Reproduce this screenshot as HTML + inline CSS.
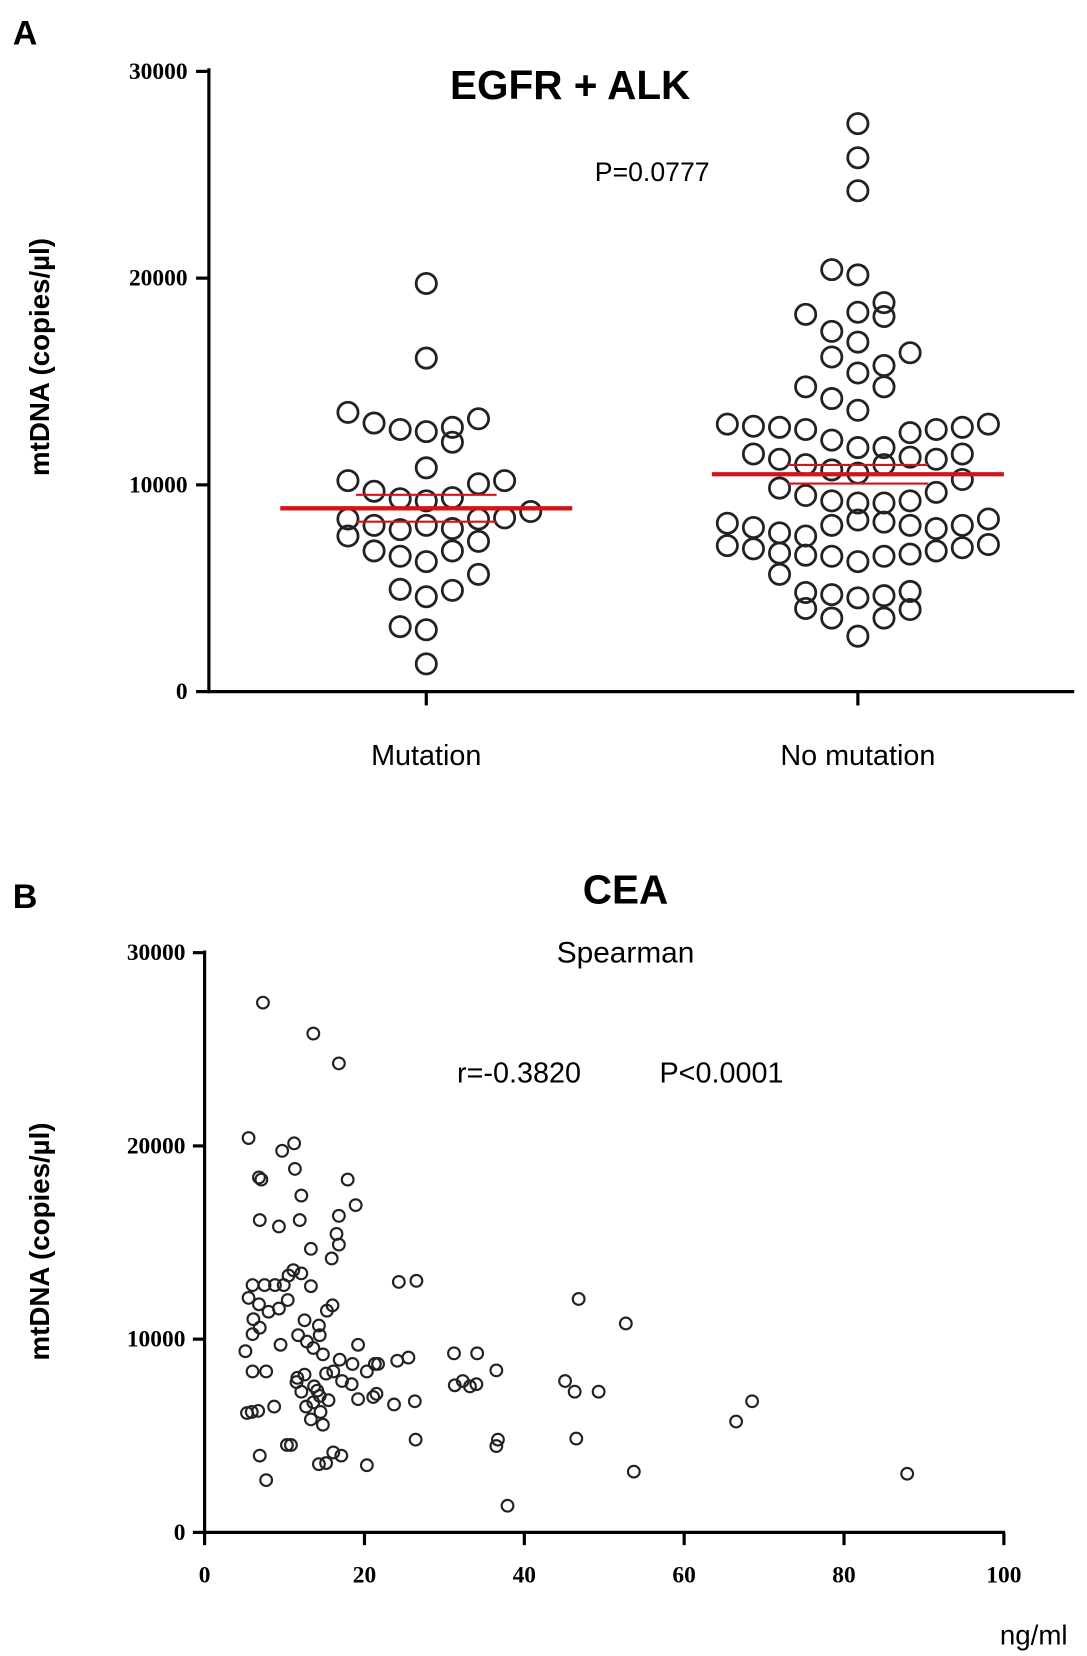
<!DOCTYPE html>
<html><head><meta charset="utf-8"><style>
body{margin:0;background:#fff}
svg{display:block}
svg text{font-family:"Liberation Sans",sans-serif}
.tk{font-family:"Liberation Serif",serif;font-weight:bold;font-size:22px}
</style></head><body>
<svg id="s" width="1087" height="1656" viewBox="0 0 1020 1554" preserveAspectRatio="none">
<text x="12" y="42" font-size="32" font-weight="bold">A</text>
<text x="535" y="93" font-size="38" font-weight="bold" text-anchor="middle">EGFR + ALK</text>
<text x="612" y="170" font-size="25" text-anchor="middle">P=0.0777</text>
<text transform="translate(46,335) rotate(-90)" font-size="26" font-weight="bold" text-anchor="middle">mtDNA (copies/µl)</text>
<text x="12" y="852" font-size="32" font-weight="bold">B</text>
<text x="587" y="848" font-size="38" font-weight="bold" text-anchor="middle">CEA</text>
<text x="587" y="903" font-size="28" text-anchor="middle">Spearman</text>
<text x="487" y="1016" font-size="27" text-anchor="middle">r=-0.3820</text>
<text x="677" y="1016" font-size="27" text-anchor="middle">P&lt;0.0001</text>
<text x="970" y="1543" font-size="26" text-anchor="middle">ng/ml</text>
<text transform="translate(46,1165) rotate(-90)" font-size="26" font-weight="bold" text-anchor="middle">mtDNA (copies/µl)</text>
<g id="ga"></g><g id="gb"></g>
</svg>
<script>
const NS="http://www.w3.org/2000/svg";
const yTicks=[0,10000,20000,30000];
const categories=["Mutation","No mutation"];
const mutVals=[19742,16134,13505,12990,12680,12577,12784,13196,12062,10825,10206,9691,9330,9227,9381,10052,10206,8351,8041,7835,8041,7886,8351,8402,8711,7526,6804,6546,6289,6804,7268,4948,4588,4897,5670,3144,2990,1340];
const mutCols=[0,0,-3,-2,-1,0,1,2,1,0,-3,-2,-1,0,1,2,3,-3,-2,-1,0,1,2,3,4,-3,-2,-1,0,1,2,-1,0,1,2,-1,0,0];
const noVals=[27474,25825,24227,20412,20155,18814,18247,18350,18144,17423,16907,16186,16392,15773,15412,14742,14742,14175,13608,12938,12835,12784,12680,12165,11804,11804,12526,12680,12784,12938,11495,11237,10979,10722,10567,10979,11340,11237,11495,9845,9485,9227,9124,9124,9227,9639,10258,8144,7938,7680,7526,8041,8299,8196,8041,7886,8041,8351,7062,6907,6701,6598,6546,6289,6546,6649,6804,6959,7113,5670,4794,4691,4536,4639,4845,4021,3557,3557,3969,2680];
const noCols=[0,0,0,-1,0,1,-2,0,1,-1,0,-1,2,1,0,-2,1,-1,0,-5,-4,-3,-2,-1,0,1,2,3,4,5,-4,-3,-2,-1,0,1,2,3,4,-3,-2,-1,0,1,2,3,4,-5,-4,-3,-2,-1,0,1,2,3,4,5,-5,-4,-3,-2,-1,0,1,2,3,4,5,-3,-2,-1,0,1,2,-2,-1,1,2,0];
const means=[8866,10515];
const sems=[650,450];
const xTicksB=[0,20,40,60,80,100];
const ceaX=[7.3,13.6,16.8,5.5,11.2,9.7,6.8,7.1,11.3,17.9,12.1,18.9,16.8,6.9,9.3,11.9,16.5,16.8,13.3,15.9,24.3,26.5,6.0,7.5,8.8,9.9,10.5,11.1,12.1,13.3,15.3,16.0,5.5,6.8,8.0,9.3,10.4,12.5,14.3,14.4,6.1,6.9,9.5,11.7,12.8,13.6,14.8,19.2,46.8,52.7,16.9,18.5,21.3,25.5,24.1,31.2,34.1,6.0,7.7,11.6,12.5,15.2,16.1,17.2,18.4,20.3,21.7,36.5,31.3,32.3,33.2,34.0,45.1,46.3,49.3,11.5,12.1,13.7,12.7,14.1,21.5,21.1,13.6,14.4,15.5,23.7,26.3,68.5,6.7,8.7,5.9,5.3,13.3,14.5,14.8,66.5,6.9,7.7,15.2,16.1,17.1,10.3,10.8,26.4,36.7,36.5,46.5,20.3,14.3,53.7,87.9,37.9,5.1,6.0,19.2];
const ceaY=[27415,25815,24270,20409,20133,19747,18368,18258,18810,18258,17431,16934,16383,16162,15831,16162,15445,14893,14673,14176,12963,13018,12797,12797,12797,12797,13294,13569,13404,12742,11473,11749,12135,11804,11418,11584,12025,10977,10701,10205,11032,10591,9708,10205,9874,9543,9212,9708,12080,10811,8936,8715,8715,9046,8881,9267,9267,8329,8329,7998,8164,8219,8329,7833,7667,8329,8715,8384,7612,7833,7557,7667,7833,7281,7281,7778,7281,7557,6509,7336,7171,7005,6730,7060,6840,6619,6785,6785,6288,6509,6233,6178,5847,6233,5571,5737,3972,2703,3585,4137,3972,4523,4523,4799,4799,4468,4854,3475,3530,3144,3034,1379,9377,10260,6895];

function mk(p,t,a){const e=document.createElementNS(NS,t);for(const k in a)e.setAttribute(k,a[k]);p.appendChild(e);return e;}
const ga=document.getElementById('ga');
const yA=v=>649-v*(582/30000);
const catX=[400,805];
const colW=24.5;
let e;
e=mk(ga,'path',{d:'M196,64V649H1008',stroke:'#000','stroke-width':3,fill:'none'});

yTicks.forEach(v=>{
  e=mk(ga,'line',{x1:184,x2:196,y1:yA(v),y2:yA(v),stroke:'#000','stroke-width':3});
  
  e=mk(ga,'text',{x:176,y:yA(v)+7,'text-anchor':'end',class:'tk'});e.textContent=v;
  
});
categories.forEach((c,i)=>{
  e=mk(ga,'line',{x1:catX[i],x2:catX[i],y1:649,y2:662,stroke:'#000','stroke-width':3});
  
  e=mk(ga,'text',{x:catX[i],y:718,'text-anchor':'middle','font-size':27});e.textContent=c;
  
});
[[mutVals,mutCols],[noVals,noCols]].forEach((g,i)=>{
  g[0].forEach((v,j)=>{
    e=mk(ga,'circle',{cx:catX[i]+g[1][j]*colW,cy:yA(v),r:9.5,fill:'none',stroke:'#222','stroke-width':2.6});
    
  });
  e=mk(ga,'line',{x1:catX[i]-137,x2:catX[i]+137,y1:yA(means[i]),y2:yA(means[i]),stroke:'#d0141c','stroke-width':4});
  
  [1,-1].forEach(s=>{
    e=mk(ga,'line',{x1:catX[i]-66,x2:catX[i]+66,y1:yA(means[i]+s*sems[i]),y2:yA(means[i]+s*sems[i]),stroke:'#d0141c','stroke-width':2});
    
  });
});
const gb=document.getElementById('gb');
const yB=v=>1438-v*(544/30000);
const xB=v=>192+v*7.5;
e=mk(gb,'path',{d:'M192,892V1438H943',stroke:'#000','stroke-width':3,fill:'none'});

yTicks.forEach(v=>{
  e=mk(gb,'line',{x1:181,x2:192,y1:yB(v),y2:yB(v),stroke:'#000','stroke-width':3});
  
  e=mk(gb,'text',{x:174,y:yB(v)+7,'text-anchor':'end',class:'tk'});e.textContent=v;
  
});
xTicksB.forEach(v=>{
  e=mk(gb,'line',{x1:xB(v),x2:xB(v),y1:1438,y2:1450,stroke:'#000','stroke-width':3});
  
  e=mk(gb,'text',{x:xB(v),y:1485,'text-anchor':'middle',class:'tk'});e.textContent=v;
  
});
ceaX.forEach((x,i)=>{
  e=mk(gb,'circle',{cx:xB(x),cy:yB(ceaY[i]),r:5.5,fill:'none',stroke:'#222','stroke-width':2});
  
});
</script>
</body></html>
